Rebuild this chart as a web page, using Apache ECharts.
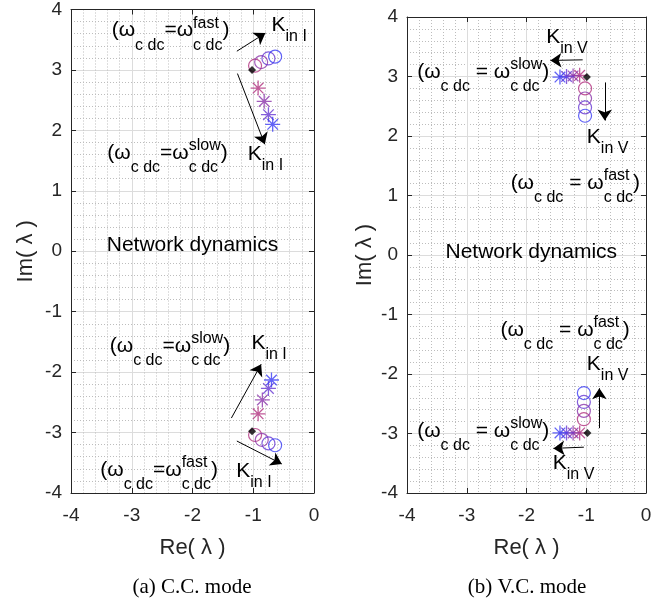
<!DOCTYPE html>
<html><head><meta charset="utf-8">
<script src="https://cdn.jsdelivr.net/npm/echarts@6.0.0/dist/echarts.min.js"></script>
<style>html,body{margin:0;padding:0;background:#fff}#c{width:672px;height:604px}</style>
</head><body><div id="c"></div>
<script>
const FONT = '"Liberation Sans", Arial, Helvetica, sans-serif';
const SERIF = '"Liberation Serif", "Times New Roman", serif';

// ---- data ----
const gainColors = ['#b0307e', '#8b35aa', '#6637d2', '#3b3cf4']; // low K -> high K
// (a) C.C. mode
const ccEqRe = [-1.02, -1.02];
const ccEqIm = [3.00, -2.98];
const ccCircUpRe = [-0.97, -0.87, -0.75, -0.64];
const ccCircUpIm = [3.07, 3.13, 3.19, 3.22];
const ccCircLoRe = [-0.97, -0.86, -0.75, -0.64];
const ccCircLoIm = [-3.04, -3.12, -3.18, -3.21];
const ccStarUpRe = [-0.92, -0.82, -0.75, -0.68];
const ccStarUpIm = [2.70, 2.48, 2.26, 2.10];
const ccStarLoRe = [-0.92, -0.85, -0.75, -0.70];
const ccStarLoIm = [-2.69, -2.46, -2.27, -2.13];
// (b) V.C. mode
const vcEqRe = [-0.99, -0.98];
const vcEqIm = [2.99, -2.99];
const vcCircUpRe = [-1.02, -1.02, -1.02, -1.02];
const vcCircUpIm = [2.80, 2.63, 2.48, 2.34];
const vcCircLoRe = [-1.04, -1.04, -1.04, -1.04];
const vcCircLoIm = [-2.76, -2.62, -2.47, -2.32];
const vcStarUpRe = [-1.11, -1.22, -1.33, -1.44];
const vcStarUpIm = [3.02, 3.01, 3.00, 2.99];
const vcStarLoRe = [-1.11, -1.22, -1.33, -1.44];
const vcStarLoIm = [-2.99, -2.99, -2.99, -2.99];
// arrows [x1, y1, x2, y2] (tail -> head)
const ccArrows = [
  [-1.27, 3.31, -0.80, 3.61],
  [-1.26, 2.94, -0.81, 1.77],
  [-1.36, -2.76, -0.87, -1.87],
  [-1.27, -3.14, -0.53, -3.52]
];
const vcArrows = [
  [-1.06, 3.28, -1.60, 3.27],
  [-0.69, 2.90, -0.69, 2.26],
  [-0.78, -2.91, -0.78, -2.24],
  [-1.04, -3.23, -1.55, -3.25]
];
const reRange = [-4, 0];
const imRange = [-4, 4];
const xName = 'Re( λ )';
const yName = 'Im( λ )';
const captions = ['(a) C.C. mode', '(b) V.C. mode'];

const STAR = 'path://M10,0L10,20M0,10L20,10M2.93,2.93L17.07,17.07M2.93,17.07L17.07,2.93';

function pts(re, im, kind) {
  return re.map((x, i) => {
    const c = gainColors[i];
    const st = kind === 'circ'
      ? { color: 'rgba(0,0,0,0)', borderColor: c, borderWidth: 1.2 }
      : { color: c, borderColor: c, borderWidth: 1.3 };
    return { value: [x, im[i]], itemStyle: st };
  });
}

function mkX(grid, main) {
  return {
    type: 'value', gridIndex: grid, position: main ? 'bottom' : 'top',
    min: reRange[0], max: reRange[1], interval: 1,
    axisLine: { show: true, onZero: false, lineStyle: { color: '#262626', width: 1 } },
    axisTick: { show: true, inside: true, length: 5, lineStyle: { color: '#262626' } },
    axisLabel: { show: main, color: '#262626', fontSize: 19, fontFamily: FONT, margin: 13 },
    splitLine: { show: main, lineStyle: { color: '#dcdcdc', width: 1 } },
    minorTick: { show: main, splitNumber: 5, length: 0 },
    minorSplitLine: { show: main, lineStyle: { color: '#bdbdbd', type: [1, 2], width: 1 } },
    name: main ? xName : '', nameLocation: 'middle', nameGap: 44,
    nameTextStyle: { fontSize: 22, color: '#262626', fontFamily: FONT }
  };
}
function mkY(grid, main, gap) {
  return {
    type: 'value', gridIndex: grid, position: main ? 'left' : 'right',
    min: imRange[0], max: imRange[1], interval: 1,
    axisLine: { show: true, onZero: false, lineStyle: { color: '#262626', width: 1 } },
    axisTick: { show: true, inside: true, length: 5, lineStyle: { color: '#262626' } },
    axisLabel: { show: main, color: '#262626', fontSize: 19, fontFamily: FONT, margin: 9 },
    splitLine: { show: main, lineStyle: { color: '#dcdcdc', width: 1 } },
    minorTick: { show: main, splitNumber: 5, length: 0 },
    minorSplitLine: { show: main, lineStyle: { color: '#bdbdbd', type: [1, 2], width: 1 } },
    name: main ? yName : '', nameLocation: 'middle', nameGap: gap, nameRotate: 90,
    nameTextStyle: { fontSize: 22, color: '#262626', fontFamily: FONT }
  };
}

function plotSeries(xi, yi, eqRe, eqIm, cuRe, cuIm, clRe, clIm, suRe, suIm, slRe, slIm, arrows) {
  return [
    { type: 'lines', coordinateSystem: 'cartesian2d', xAxisIndex: xi, yAxisIndex: yi,
      symbol: ['none', 'arrow'], symbolSize: 11, silent: true, z: 3,
      lineStyle: { color: '#000', width: 1, opacity: 1, curveness: 0 },
      data: arrows.map(a => ({ coords: [[a[0], a[1]], [a[2], a[3]]] })) },
    { type: 'scatter', xAxisIndex: xi, yAxisIndex: yi, symbol: 'circle', symbolSize: 13, silent: true, z: 4,
      data: pts(cuRe, cuIm, 'circ').concat(pts(clRe, clIm, 'circ')) },
    { type: 'scatter', xAxisIndex: xi, yAxisIndex: yi, symbol: STAR, symbolSize: 15, silent: true, z: 4,
      data: pts(suRe, suIm, 'star').concat(pts(slRe, slIm, 'star')) },
    { type: 'scatter', xAxisIndex: xi, yAxisIndex: yi, symbol: 'diamond', symbolSize: 8, silent: true, z: 5,
      itemStyle: { color: '#000' },
      data: eqRe.map((x, i) => [x, eqIm[i]]) }
  ];
}

const chart = echarts.init(document.getElementById('c'), null, { renderer: 'canvas' });
const option = {
  animation: false,
  backgroundColor: '#fff',
  grid: [
    { left: 71, top: 9, width: 243, height: 484 },
    { left: 407, top: 17, width: 239, height: 476 }
  ],
  xAxis: [mkX(0, true), mkX(0, false), mkX(1, true), mkX(1, false)],
  yAxis: [mkY(0, true, 34), mkY(0, false, 0), mkY(1, true, 31), mkY(1, false, 0)],
  series: [].concat(
    plotSeries(0, 0, ccEqRe, ccEqIm, ccCircUpRe, ccCircUpIm, ccCircLoRe, ccCircLoIm,
      ccStarUpRe, ccStarUpIm, ccStarLoRe, ccStarLoIm, ccArrows),
    plotSeries(2, 2, vcEqRe, vcEqIm, vcCircUpRe, vcCircUpIm, vcCircLoRe, vcCircLoIm,
      vcStarUpRe, vcStarUpIm, vcStarLoRe, vcStarLoIm, vcArrows)
  )
};
chart.setOption(option);

// ---- annotations (TeX-like texts) ----
const M = 21, S = 16;
const ctx = document.createElement('canvas').getContext('2d');
function tw(t, s) { ctx.font = s + 'px ' + FONT; return ctx.measureText(t).width; }

function formulaParts(sup, spaced) {
  return [
    { t: '(ω', s: M, dy: 0 },
    { t: 'c dc', s: S, dy: 14.5 },
    { t: spaced ? ' = ω' : '=ω', s: M, dy: 0 },
    { stack: [{ t: sup, s: S, dy: -7.5 }, { t: 'c dc', s: S, dy: 14.5 }] },
    { t: ')', s: M, dy: 0 }
  ];
}
function kParts(sub) {
  return [{ t: 'K', s: M, dy: 0 }, { t: sub, s: S, dy: 11.5 }];
}
function plain(t) { return [{ t: t, s: M, dy: 0 }]; }

// grid index, parts, anchor [re, im], align
const annotations = [
  [0, formulaParts('fast', false), [-3.33, 3.65], 'left'],
  [0, kParts('in I'), [-0.70, 3.74], 'left'],
  [0, formulaParts('slow', false), [-1.42, 1.62], 'right'],
  [0, kParts('in I'), [-1.09, 1.60], 'left'],
  [0, plain('Network dynamics'), [-2.0, 0.10], 'center'],
  [0, formulaParts('slow', false), [-1.38, -1.57], 'right'],
  [0, kParts('in I'), [-1.03, -1.52], 'left'],
  [0, formulaParts('fast', false), [-1.58, -3.62], 'right'],
  [0, kParts('in I'), [-1.28, -3.64], 'left'],
  [1, kParts('in V'), [-1.67, 3.66], 'left'],
  [1, formulaParts('slow', true), [-3.83, 3.08], 'left'],
  [1, kParts('in V'), [-0.99, 1.98], 'left'],
  [1, formulaParts('fast', true), [-0.10, 1.21], 'right'],
  [1, plain('Network dynamics'), [-1.92, 0.05], 'center'],
  [1, formulaParts('fast', true), [-0.27, -1.26], 'right'],
  [1, kParts('in V'), [-0.99, -1.83], 'left'],
  [1, formulaParts('slow', true), [-3.83, -2.96], 'left'],
  [1, kParts('in V'), [-1.56, -3.50], 'left']
];

const elems = [];
function txt(x, y, t, s, fam, align) {
  elems.push({ type: 'text', x: x, y: y, silent: true, z: 10,
    style: { text: t, fontSize: s, fontFamily: fam || FONT, fill: '#000',
      verticalAlign: 'middle', align: align || 'left' } });
}
annotations.forEach(a => {
  const p = chart.convertToPixel({ gridIndex: a[0] }, a[2]);
  const parts = a[1];
  let total = 0;
  parts.forEach(q => {
    total += q.stack ? Math.max.apply(null, q.stack.map(r => tw(r.t, r.s))) : tw(q.t, q.s);
  });
  let x = a[3] === 'left' ? p[0] : a[3] === 'right' ? p[0] - total : p[0] - total / 2;
  parts.forEach(q => {
    if (q.stack) {
      let w = 0;
      q.stack.forEach(r => { txt(x, p[1] + r.dy, r.t, r.s); w = Math.max(w, tw(r.t, r.s)); });
      x += w;
    } else {
      txt(x, p[1] + q.dy, q.t, q.s);
      x += tw(q.t, q.s);
    }
  });
});
// captions
txt(192, 587, captions[0], 21, SERIF, 'center');
txt(527, 587, captions[1], 21, SERIF, 'center');
chart.setOption({ graphic: elems });
</script></body></html>
